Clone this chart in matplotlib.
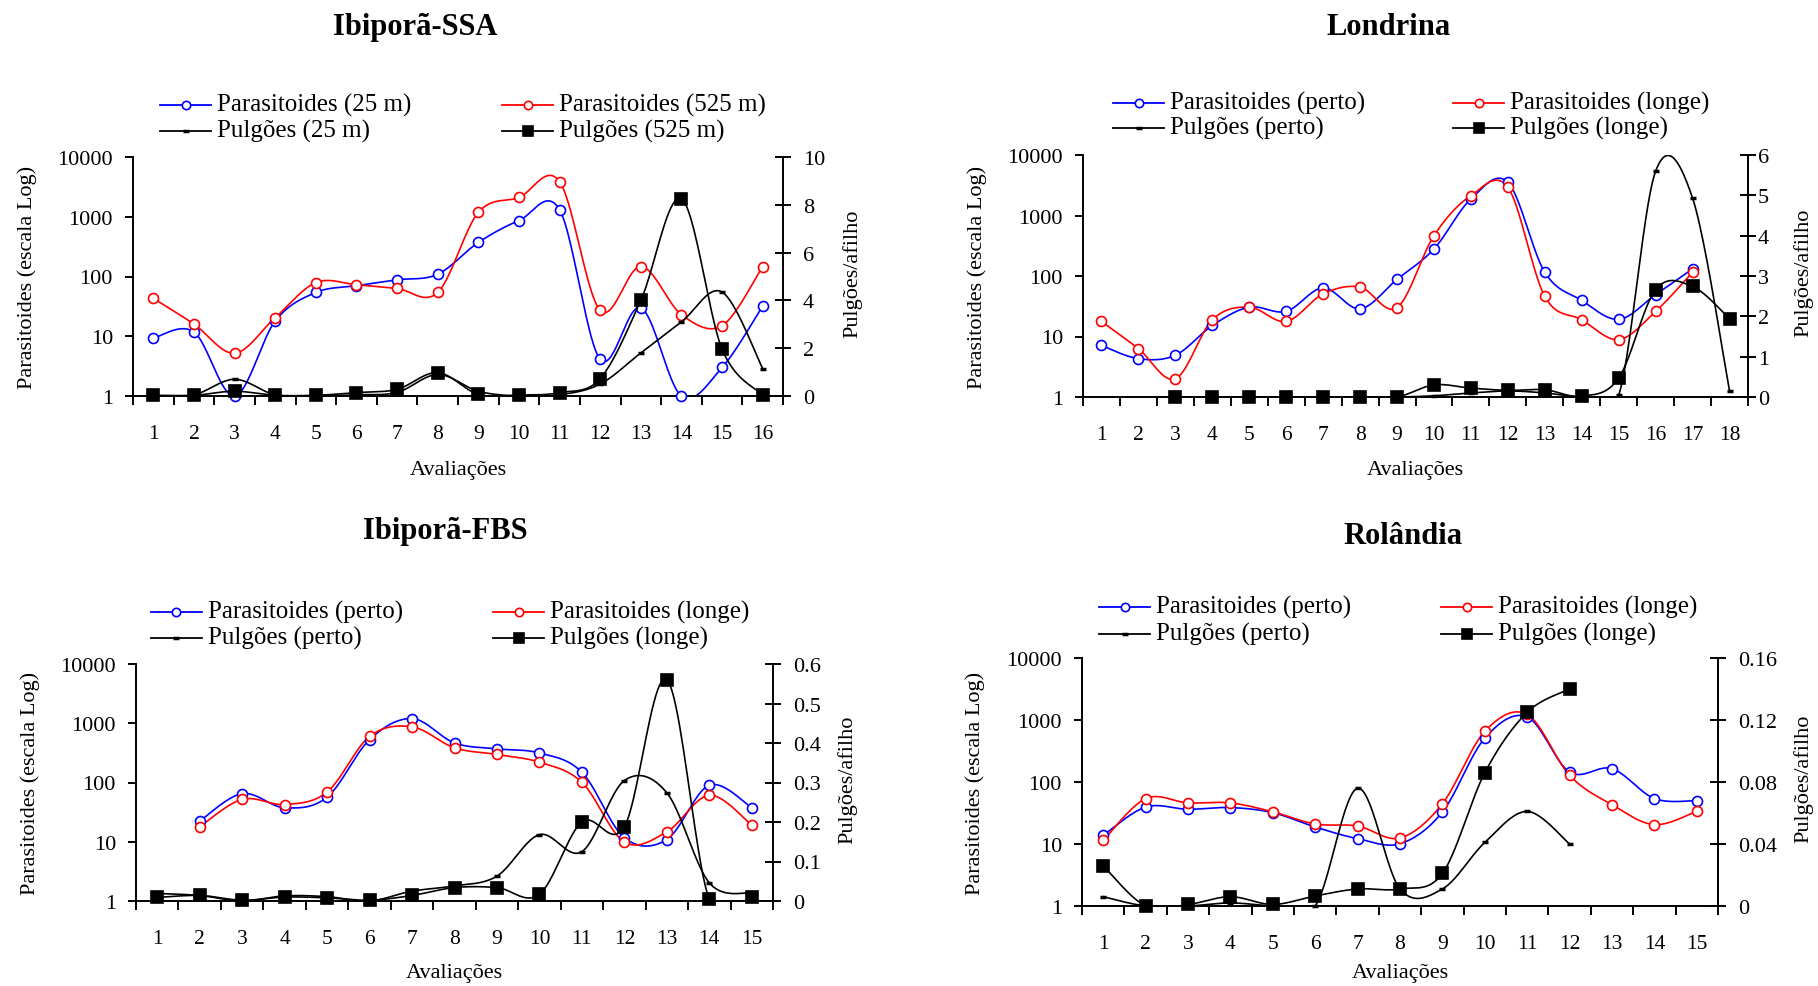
import numpy as np
import matplotlib.pyplot as plt
from matplotlib.lines import Line2D
from matplotlib.ticker import NullLocator

plt.rcParams['font.family'] = ['Liberation Serif', 'DejaVu Serif']

nan = np.nan
W, H = 1818, 987

# Ibiporã-SSA: 16 avaliações
ssa_par_25 = [9.3, 11.8, 1.0, 18, 54, 70, 88, 109, 371, 860, 1310, 4.1, 30, 1.0, 3.0, 32]
ssa_par_525 = [43, 16, 5.2, 20.5, 79, 73, 63, 54, 1180, 2100, 3880, 27, 147, 23, 15, 147]
ssa_pul_25 = [0.0, 0.05, 0.7, 0.05, 0.0, 0.05, 0.15, 0.9, 0.2, 0.0, 0.05, 0.5, 1.8, 3.1, 4.35, 1.15]
ssa_pul_525 = [0.03, 0.03, 0.2, 0.03, 0.03, 0.14, 0.28, 0.98, 0.07, 0.04, 0.14, 0.73, 4.0, 8.25, 1.96, 0.04]

# Londrina: 18 avaliações
lon_par_perto = [7.1, 4.3, 4.9, 15.2, 30.6, 26, 63.6, 28.7, 88, 280, 1880, 3530, 115, 39.5, 19.2, 49.3, 131, nan]
lon_par_longe = [17.7, 6.3, 2.0, 18.9, 30.6, 17.7, 50.7, 65.5, 30, 465, 2130, 2930, 46, 18.9, 8.9, 26, 115, nan]
lon_pul_perto = [nan, nan, 0, 0, 0, 0, 0, 0, 0, 0.03, 0.1, 0.15, 0.1, 0.0, 0.04, 5.6, 4.93, 0.16]
lon_pul_longe = [nan, nan, 0, 0, 0, 0, 0, 0, 0, 0.3, 0.22, 0.165, 0.18, 0.02, 0.47, 2.66, 2.74, 1.94]

# Ibiporã-FBS: 15 avaliações
fbs_par_perto = [nan, 22.3, 65, 37.5, 56.5, 530, 1200, 465, 370, 315, 149, 11.7, 10.9, 90, 37.5]
fbs_par_longe = [nan, 17.9, 52, 42.5, 69, 600, 870, 385, 297, 220, 101, 9.9, 14.7, 61, 19.1]
fbs_pul_perto = [0.019, 0.014, 0.0, 0.013, 0.011, 0.0, 0.025, 0.038, 0.063, 0.168, 0.125, 0.305, 0.274, 0.046, 0.02]
fbs_pul_longe = [0.009, 0.014, 0.002, 0.01, 0.008, 0.002, 0.014, 0.034, 0.034, 0.017, 0.20, 0.188, 0.56, 0.004, 0.011]

# Rolândia: 15 avaliações
rol_par_perto = [13.8, 39.4, 36.3, 38.7, 32, 18.8, 12.2, 10.1, 32.8, 510, 1120, 145, 164, 54, 50]
rol_par_longe = [11.4, 54, 46, 46, 33, 21, 19.5, 12.5, 44.7, 656, 1230, 128, 43, 20.5, 33.7]
rol_pul_perto = [0.006, 0.0, 0.0, 0.002, 0.0, 0.0, 0.076, 0.011, 0.011, 0.041, 0.061, 0.040, nan, nan, nan]
rol_pul_longe = [0.026, 0.0, 0.001, 0.006, 0.001, 0.0065, 0.011, 0.011, 0.021, 0.086, 0.125, 0.140, nan, nan, nan]

LW = 1.2
AX_LW = 1.4


def smooth(x, y, steps=24):
    # smoothed line through the points: Catmull-Rom written as cubic Bezier
    pts = np.column_stack([x, y]).astype(float)
    ext = np.vstack([pts[0], pts, pts[-1]])
    t = np.linspace(0, 1, steps)[:, None]
    out = [pts[:1]]
    for i in range(len(pts) - 1):
        p0, p1, p2, p3 = ext[i], ext[i + 1], ext[i + 2], ext[i + 3]
        c1 = p1 + (p2 - p0) / 6
        c2 = p2 - (p3 - p1) / 6
        seg = ((1 - t) ** 3 * p1 + 3 * (1 - t) ** 2 * t * c1
               + 3 * (1 - t) * t ** 2 * c2 + t ** 3 * p2)
        out.append(seg[1:])
    res = np.vstack(out)
    return res[:, 0], res[:, 1]


def draw(ax, values, log, color, marker, ms, mfc, mew=1.2):
    y = np.asarray(values, float)
    x = np.arange(1, len(y) + 1, dtype=float)
    idx = np.flatnonzero(~np.isnan(y))
    for g in np.split(idx, np.flatnonzero(np.diff(idx) > 1) + 1):
        xs, ys = x[g], y[g]
        if log:
            sx, sy = smooth(xs, np.log10(ys))
            sy = 10 ** sy
        else:
            sx, sy = smooth(xs, ys)
        ax.plot(sx, sy, color=color, lw=LW, zorder=2)
        ax.plot(xs, ys, ls='none', marker=marker, ms=ms, mfc=mfc, mec=color,
                mew=mew, zorder=3, clip_on=False)


def legend_entry(fig, x0, y, label, color, marker, ms, mfc, mew=1.2):
    xa, xb = x0 / W, (x0 + 51) / W
    yy = 1 - y / H
    fig.add_artist(Line2D([xa, (xa + xb) / 2, xb], [yy] * 3, transform=fig.transFigure,
                          color=color, lw=1.3, marker=marker, markevery=[1], ms=ms,
                          mfc=mfc, mec=color, mew=mew))
    fig.text((x0 + 57) / W, yy, label, fontsize=18, ha='left', va='center')


def ftext(x, y, s, **kw):
    fig.text(x / W, 1 - y / H, s, ha='center', va='center', **kw)


def panel(box, title, title_xy, par_a, par_b, pul_a, pul_b, names, pul_max, pul_step,
          leg, ylab_x, rlab_x, xlab_y, rpad=8.6):
    l, t, r, b = box
    ax = fig.add_axes([l / W, 1 - b / H, (r - l) / W, (b - t) / H])
    n = len(par_a)
    ax.set_yscale('log')
    ax.set_ylim(1, 10000)
    ax.set_xlim(0.5, n + 0.5)
    ax.set_yticks([1, 10, 100, 1000, 10000])
    ax.set_yticklabels(['1', '10', '100', '1000', '10000'])
    ax.yaxis.set_minor_locator(NullLocator())
    ax.set_xticks(np.arange(1, n + 1))
    ax.set_xticks(np.arange(0.5, n + 1), minor=True)
    ax.tick_params(axis='x', which='major', length=0, pad=20.5, labelsize=15.5)
    ax.tick_params(axis='x', which='minor', length=6.5, width=AX_LW, direction='out')
    ax.tick_params(axis='y', which='major', length=5.5, width=AX_LW, pad=9, labelsize=16)
    for s in ('top', 'right'):
        ax.spines[s].set_visible(False)
    for s in ('left', 'bottom'):
        ax.spines[s].set_linewidth(AX_LW)

    ax2 = ax.twinx()
    ax2.set_ylim(0, pul_max)
    ticks = np.arange(0, pul_max + pul_step / 2, pul_step)
    ax2.set_yticks(ticks)
    ax2.set_yticklabels(['%g' % round(v, 3) for v in ticks])
    ax2.tick_params(axis='y', direction='inout', length=11.5, width=AX_LW, pad=rpad,
                    labelsize=16)
    for s in ('top', 'left', 'bottom'):
        ax2.spines[s].set_visible(False)
    ax2.spines['right'].set_linewidth(AX_LW)

    draw(ax, par_a, True, 'blue', 'o', 7.2, 'white')
    draw(ax, par_b, True, 'red', 'o', 7.2, 'white')
    draw(ax2, pul_a, False, 'black', '_', 4.5, 'black', mew=2.5)
    draw(ax2, pul_b, False, 'black', 's', 8.2, 'black')

    ftext(title_xy[0], title_xy[1] + 2.5, title, fontsize=22, fontweight='bold')
    c1, c2, r1, r2 = leg
    legend_entry(fig, c1, r1 + 2.5, names[0], 'blue', 'o', 6, 'white')
    legend_entry(fig, c1, r2 + 2.5, names[1], 'black', '_', 4.5, 'black', mew=2.5)
    legend_entry(fig, c2, r1 + 2.5, names[2], 'red', 'o', 6, 'white')
    legend_entry(fig, c2, r2 + 2.5, names[3], 'black', 's', 7, 'black')

    ymid = (t + b) / 2
    ftext(ylab_x, ymid, 'Parasitoides (escala Log)', fontsize=16, rotation=90)
    ftext(rlab_x, ymid - 4, 'Pulgões/afilho', fontsize=16, rotation=90)
    ftext((l + r) / 2, xlab_y + 3, 'Avaliações', fontsize=16)
    return ax, ax2


fig = plt.figure(figsize=(W / 100, H / 100), dpi=100)

perto = ['Parasitoides (perto)', 'Pulgões (perto)', 'Parasitoides (longe)', 'Pulgões (longe)']

panel((133, 158, 783, 397), 'Ibiporã-SSA', (415, 25),
      ssa_par_25, ssa_par_525, ssa_pul_25, ssa_pul_525,
      ['Parasitoides (25 m)', 'Pulgões (25 m)', 'Parasitoides (525 m)', 'Pulgões (525 m)'],
      10, 2, (160, 502, 103, 129), 27, 852, 468)

panel((1083, 156, 1748, 398), 'Londrina', (1389, 25),
      lon_par_perto, lon_par_longe, lon_pul_perto, lon_pul_longe, perto,
      6, 1, (1113, 1453, 101, 126), 977, 1803, 468, rpad=1.5)

panel((136, 665, 773, 902), 'Ibiporã-FBS', (445, 529),
      fbs_par_perto, fbs_par_longe, fbs_pul_perto, fbs_pul_longe, perto,
      0.6, 0.1, (151, 493, 610, 636), 30, 847, 971)

panel((1082, 659, 1718, 907), 'Rolândia', (1403, 534),
      rol_par_perto, rol_par_longe, rol_pul_perto, rol_pul_longe, perto,
      0.16, 0.04, (1099, 1441, 605, 632), 975, 1803, 971)

fig.savefig('out.png', dpi=100, facecolor='white')
